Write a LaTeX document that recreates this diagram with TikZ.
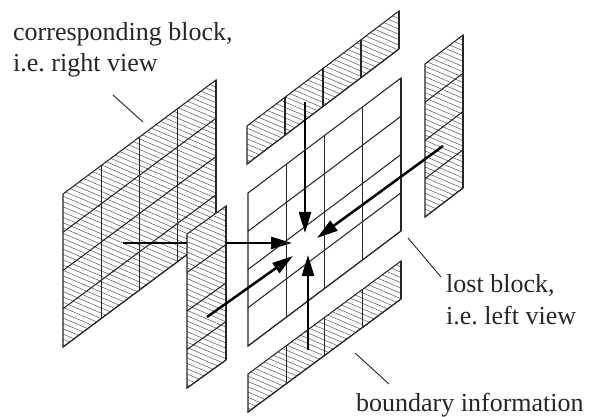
\documentclass[tikz,border=0pt]{standalone}
\usepackage{fontspec}
\setmainfont{Liberation Serif}
\usetikzlibrary{arrows.meta}
\tikzset{
  x=1pt,y=-1pt,
  edge/.style={line width=1.05pt,black!85,line join=miter},
  hatchline/.style={line width=0.45pt,black!70},
  bigarrow/.style={line width=2.5pt,-{Triangle[length=21pt,width=12pt]}},
  pointer/.style={line width=0.9pt,black!85},
  lab/.style={font=\fontsize{26}{30}\selectfont\frenchspacing,anchor=base west,inner sep=0pt,black!85}
}
% #1 left x, #2 top-left y, #3 width, #4 rise, #5 height, #6 columns, #7 rows
\newcommand{\panelgrid}[7]{%
  \draw[edge] (#1,#2) -- ++(#3,-#4) -- ++(0,#5) -- ++(-#3,#4) -- cycle;
  \foreach \c in {1,...,#6} {
    \draw[edge] ({#1+#3*\c/#6},{#2-#4*\c/#6}) -- ++(0,#5);
  }
  \foreach \r in {1,...,#7} {
    \draw[edge] (#1,{#2+#5*\r/#7}) -- ++(#3,-#4);
  }
}
\newcommand{\hatchpanel}[7]{%
  \fill[white] (#1,#2) -- ++(#3,-#4) -- ++(0,#5) -- ++(-#3,#4) -- cycle;
  \begin{scope}
    \clip (#1,#2) -- ++(#3,-#4) -- ++(0,#5) -- ++(-#3,#4) -- cycle;
    \foreach \k in {-80,...,70} {
      \draw[hatchline] (#1-5,{#2+\k*5.3}) -- ++(170,73);
    }
  \end{scope}
  \panelgrid{#1}{#2}{#3}{#4}{#5}{#6}{#7}%
}
\begin{document}
\begin{tikzpicture}
\useasboundingbox (0,0) rectangle (595,417);
\fill[white] (0,0) rectangle (595,417);
% corresponding block
\hatchpanel{63}{194}{153}{114}{153}{4}{4}
% arrow from the corresponding block passes behind the left strip
\coordinate (a1s) at (123,243);
\coordinate (a1e) at (292,243);
\draw[bigarrow] (a1s) -- (a1e);
% lost block
\panelgrid{248}{193}{153}{115}{153}{4}{4}
% left strip
\hatchpanel{187}{234}{39}{28}{154}{1}{4}
\draw[line width=2.5pt] (226,243) -- (272,243);
% top strip
\hatchpanel{247}{126}{152}{115}{38}{4}{1}
% right strip
\hatchpanel{425}{64}{38}{29}{153}{1}{4}
% bottom strip
\hatchpanel{248}{374}{153}{113}{38}{4}{1}
% arrows
\coordinate (a2s) at (207,317);
\coordinate (a2e) at (293,256);
\coordinate (a3s) at (308,350);
\coordinate (a3e) at (308,255);
\coordinate (a4s) at (305,102);
\coordinate (a4e) at (305,233);
\coordinate (a5s) at (443,146);
\coordinate (a5e) at (317,238);
\draw[bigarrow] (a2s) -- (a2e);
\draw[bigarrow] (a3s) -- (a3e);
\draw[bigarrow] (a4s) -- (a4e);
\draw[bigarrow] (a5s) -- (a5e);
% pointers
\coordinate (p1s) at (113,95);
\coordinate (p1e) at (143,122);
\coordinate (p2s) at (408,238);
\coordinate (p2e) at (441,277);
\coordinate (p3s) at (355,353);
\coordinate (p3e) at (389,384);
\draw[pointer] (p1s) -- (p1e);
\draw[pointer] (p2s) -- (p2e);
\draw[pointer] (p3s) -- (p3e);
% labels
\node[lab] (t1) at (13,41) {corresponding block,};
\node[lab] (t2) at (13,72) {i.e. right view};
\node[lab] (t3) at (446,292) {lost block,};
\node[lab] (t4) at (446,324) {i.e. left view};
\node[lab] (t5) at (356,411) {boundary information};
\end{tikzpicture}
\end{document}
